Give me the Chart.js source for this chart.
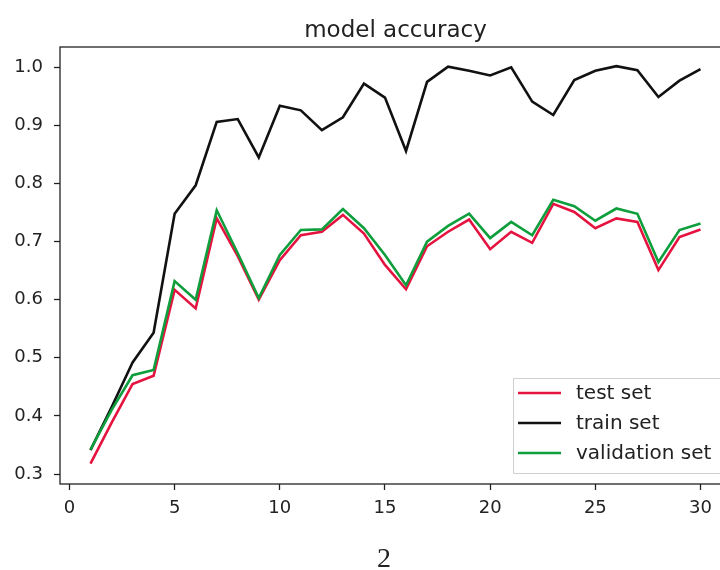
<!DOCTYPE html>
<html>
<head>
<meta charset="utf-8">
<script src="https://cdn.jsdelivr.net/npm/chart.js@4"></script>
<style>
  html,body{margin:0;padding:0;background:#fff;overflow:hidden;}
  #wrap{position:relative;width:745px;height:570px;}
</style>
</head>
<body>
<div id="wrap"><canvas id="chart"></canvas></div>
<script>
/* ------- DATA ------- */
const epochs = [1,2,3,4,5,6,7,8,9,10,11,12,13,14,15,16,17,18,19,20,21,22,23,24,25,26,27,28,29,30];
const testAcc = [0.318,0.388,0.455,0.469,0.617,0.585,0.740,0.675,0.600,0.668,0.711,0.717,0.746,0.714,0.660,0.618,0.692,0.717,0.738,0.687,0.717,0.698,0.765,0.751,0.723,0.740,0.734,0.651,0.708,0.721];
const trainAcc = [0.341,0.415,0.492,0.543,0.748,0.797,0.906,0.911,0.845,0.934,0.926,0.892,0.914,0.972,0.948,0.856,0.975,1.001,0.994,0.986,1.000,0.941,0.918,0.978,0.994,1.002,0.995,0.949,0.977,0.997];
const valAcc = [0.342,0.410,0.470,0.479,0.632,0.600,0.754,0.680,0.603,0.677,0.720,0.721,0.756,0.723,0.677,0.625,0.700,0.727,0.748,0.706,0.734,0.711,0.772,0.761,0.736,0.757,0.748,0.665,0.720,0.731];
const seriesNames = ["test set","train set","validation set"];
const xTicks = [0,5,10,15,20,25,30];
const yTicks = [0.3,0.4,0.5,0.6,0.7,0.8,0.9,1.0];

const RED = "#e5133f", BLACK = "#111111", GREEN = "#0e9e3c";
const FONT = "'DejaVu Sans', sans-serif";
const INK = "#222222";

const pts = arr => arr.map((v,i)=>({x:epochs[i], y:v}));

/* ------- FRAME + TEXT (matplotlib look) ------- */
const framePlugin = {
  id:"frame",
  afterDraw(chart){
    const {ctx, chartArea:a} = chart;
    ctx.save();
    // box around axes
    ctx.strokeStyle = INK;
    ctx.lineWidth = 1.3;
    ctx.strokeRect(a.left, a.top, a.right-a.left, a.bottom-a.top);

    // title
    ctx.fillStyle = INK;
    ctx.font = "23px " + FONT;
    ctx.textAlign = "center";
    ctx.textBaseline = "alphabetic";
    ctx.fillText("model accuracy", (a.left+a.right)/2, 37);

    // legend, lower right
    const ds = chart.data.datasets;
    const lx = 513, ly = 378, lw = 230, lh = 95;
    ctx.fillStyle = "rgba(255,255,255,0.85)";
    ctx.strokeStyle = "#d0d0d0";
    ctx.lineWidth = 1;
    ctx.beginPath();
    ctx.rect(lx+0.5, ly+0.5, lw, lh);
    ctx.fill(); ctx.stroke();
    ctx.font = "20px " + FONT;
    ctx.textAlign = "left";
    ctx.textBaseline = "middle";
    [0,1,2].forEach((k,r)=>{
      const y = 393 + r*30;
      ctx.strokeStyle = ds[k].borderColor;
      ctx.lineWidth = 2.6;
      ctx.beginPath();
      ctx.moveTo(518, y); ctx.lineTo(561, y);
      ctx.stroke();
      ctx.fillStyle = INK;
      ctx.fillText(ds[k].label, 576, y+1);
    });

    // figure number
    ctx.fillStyle = "#222";
    ctx.font = "28px 'Liberation Serif', serif";
    ctx.textAlign = "center";
    ctx.textBaseline = "alphabetic";
    ctx.fillText("2", 384, 567);
    ctx.restore();
  }
};

/* ------- CHART ------- */
new Chart(document.getElementById("chart"), {
  type:"line",
  data:{
    datasets:[
      { label:seriesNames[0], data:pts(testAcc),  borderColor:RED,   order:3 },
      { label:seriesNames[1], data:pts(trainAcc), borderColor:BLACK, order:2 },
      { label:seriesNames[2], data:pts(valAcc),   borderColor:GREEN, order:1 }
    ]
  },
  options:{
    responsive:true,
    maintainAspectRatio:false,
    animation:false,
    devicePixelRatio:1,
    layout:{ padding:{ top:47, right:14, bottom:0, left:0 } },
    elements:{
      line:{ borderWidth:2.6, tension:0, fill:false },
      point:{ radius:0, hoverRadius:0 }
    },
    plugins:{ legend:{display:false}, title:{display:false}, tooltip:{enabled:false} },
    scales:{
      x:{
        type:"linear", min:-0.45, max:31.45,
        afterBuildTicks:s=>{ s.ticks = xTicks.map(v=>({value:v})); },
        afterFit:s=>{ s.height = 86; },
        grid:{ drawOnChartArea:false, tickLength:6, tickColor:INK, tickWidth:1.3 },
        border:{ display:false },
        ticks:{ color:INK, font:{family:FONT, size:18}, padding:8, maxRotation:0, autoSkip:false,
                callback:v=>String(v) }
      },
      y:{
        min:0.2828, max:1.035,
        afterBuildTicks:s=>{ s.ticks = yTicks.map(v=>({value:v})); },
        afterFit:s=>{ s.width = 60; },
        grid:{ drawOnChartArea:false, tickLength:6, tickColor:INK, tickWidth:1.3 },
        border:{ display:false },
        ticks:{ color:INK, font:{family:FONT, size:18}, padding:11, autoSkip:false,
                callback:v=>v.toFixed(1) }
      }
    }
  },
  plugins:[framePlugin]
});
</script>
</body>
</html>
